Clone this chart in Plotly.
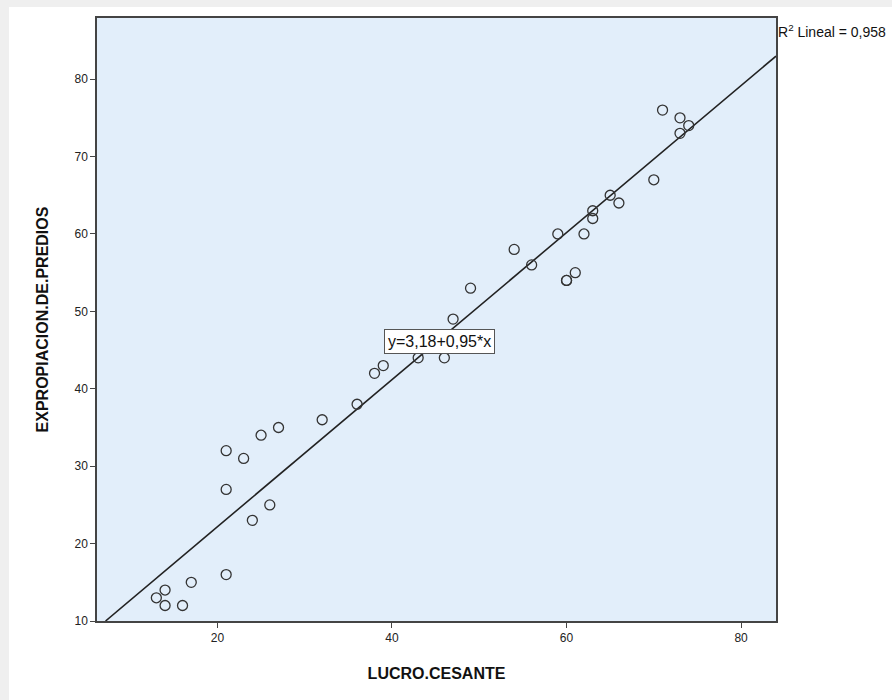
import plotly.graph_objects as go

lucro = [13, 14, 14, 16, 17, 21, 21, 21, 23, 24, 25, 26, 27, 32, 36, 38, 39, 43, 46, 47,
         49, 54, 56, 59, 60, 60, 61, 62, 63, 63, 65, 66, 70, 71, 73, 73, 74]
expro = [13, 14, 12, 12, 15, 16, 27, 32, 31, 23, 34, 25, 35, 36, 38, 42, 43, 44, 44, 49,
         53, 58, 56, 60, 54, 54, 55, 60, 62, 63, 65, 64, 67, 76, 75, 73, 74]
intercept = 3.18
slope = 0.95
r2 = "0,958"
x_range = [6.2, 84.0]
y_range = [10.0, 87.9]
x_ticks = [20, 40, 60, 80]
y_ticks = [10, 20, 30, 40, 50, 60, 70, 80]

W, H = 892, 700
L, R, T, B = 97, 116, 18, 79
pw, ph = W - L - R, H - T - B

def px_x(p):
    return (p - L) / pw

def px_y(p):
    return (H - B - p) / ph

# fit line clipped to plot area
x_start = max(x_range[0], (y_range[0] - intercept) / slope)
x_end = x_range[1]
line_x = [x_start, x_end]
line_y = [intercept + slope * v for v in line_x]

fig = go.Figure()
fig.add_trace(go.Scatter(
    x=line_x, y=line_y, mode="lines",
    line=dict(color="#222222", width=1.6), hoverinfo="skip", showlegend=False,
))
fig.add_trace(go.Scatter(
    x=lucro, y=expro, mode="markers",
    marker=dict(symbol="circle-open", size=10, color="#333333", line=dict(width=1.3)),
    showlegend=False,
))

axis_common = dict(
    showgrid=False, zeroline=False, showline=True, linecolor="#444444", linewidth=1.5,
    mirror=True, ticks="outside", ticklen=5, tickcolor="#444444", tickwidth=1.3,
    tickfont=dict(family="Liberation Sans, Arial", size=12, color="#222222"),
)

fig.update_layout(
    width=W, height=H,
    margin=dict(l=L, r=R, t=T, b=B, pad=0),
    paper_bgcolor="white", plot_bgcolor="#E2EEFA",
    xaxis=dict(range=x_range, tickvals=x_ticks, **axis_common,
               title=dict(text="<b>LUCRO.CESANTE</b>", standoff=24,
                          font=dict(family="Liberation Sans, Arial", size=16, color="#111111"))),
    yaxis=dict(range=y_range, tickvals=y_ticks, **axis_common,
               title=dict(text="<b>EXPROPIACION.DE.PREDIOS</b>", standoff=22,
                          font=dict(family="Liberation Sans, Arial", size=16, color="#111111"))),
    font=dict(family="Liberation Sans, Arial"),
    annotations=[
        dict(x=45.4, y=46.1, xref="x", yref="y", showarrow=False,
             text="y=3,18+0,95*x", font=dict(size=16, color="#111111"),
             bgcolor="white", bordercolor="#555555", borderwidth=1, borderpad=3),
        dict(x=px_x(776), y=px_y(31), xref="paper", yref="paper", xanchor="left",
             yanchor="middle", showarrow=False,
             text="R<sup>2</sup> Lineal = " + r2, font=dict(size=14, color="#111111")),
    ],
    shapes=[
        dict(type="rect", xref="paper", yref="paper", x0=px_x(0), x1=px_x(9),
             y0=px_y(700), y1=px_y(0), fillcolor="#EFEFEF", line=dict(width=0), layer="below"),
        dict(type="rect", xref="paper", yref="paper", x0=px_x(0), x1=px_x(892),
             y0=px_y(7), y1=px_y(0), fillcolor="#EFEFEF", line=dict(width=0), layer="below"),
    ],
)

fig.write_html("out.html")
